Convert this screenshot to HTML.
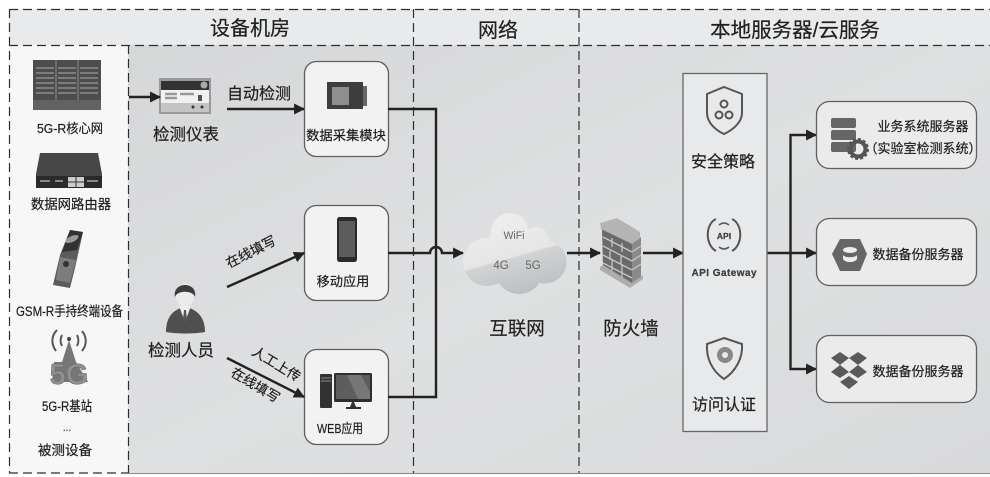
<!DOCTYPE html>
<html>
<head>
<meta charset="utf-8">
<style>
html,body{margin:0;padding:0;background:#fff;width:990px;height:477px;overflow:hidden}
svg{display:block}
text{font-family:"Liberation Sans","Noto Sans CJK SC",sans-serif;fill:#202020;text-anchor:middle;stroke:#202020;stroke-width:.2}
</style>
</head>
<body>
<svg width="990" height="477" viewBox="0 0 990 477" xmlns="http://www.w3.org/2000/svg">
<defs>
<linearGradient id="bg" x1="0" y1="0" x2="1" y2="1">
<stop offset="0" stop-color="#d6d7d8"/><stop offset=".5" stop-color="#dfe0e1"/><stop offset="1" stop-color="#d9dadb"/>
</linearGradient>
<linearGradient id="cl" x1="0" y1="0" x2=".35" y2="1">
<stop offset="0" stop-color="#f0f0f1"/><stop offset=".62" stop-color="#e6e6e7"/><stop offset=".64" stop-color="#d2d3d4"/><stop offset="1" stop-color="#bfc0c1"/>
</linearGradient>
<clipPath id="cloud">
<circle cx="510" cy="232" r="19"/><circle cx="536" cy="240" r="13"/><circle cx="487" cy="262" r="24"/>
<circle cx="545" cy="262" r="21.5"/><circle cx="519" cy="270" r="24"/><circle cx="510" cy="250" r="24"/>
</clipPath>
<marker id="a" viewBox="0 0 10 10" refX="9" refY="5" markerWidth="4.6" markerHeight="4.8" orient="auto"><path d="M0 0L10 5L0 10z" fill="#222"/></marker>
<filter id="b" x="-5%" y="-5%" width="110%" height="110%"><feGaussianBlur stdDeviation=".3"/></filter>
</defs>
<g filter="url(#b)">
<rect x="9" y="9" width="981" height="36" fill="#e9eaeb"/>
<rect x="128" y="45" width="862" height="428" fill="url(#bg)"/>
<rect x="9" y="45" width="119" height="428" fill="#f7f7f7"/>
<g fill="none" stroke="#2e2e2e" stroke-width="1.2" stroke-dasharray="9 5">
<path d="M9 9.5H990M9 45.5H990"/>
<path d="M9.5 9V473.5"/><path d="M128.5 45V473"/><path d="M413.5 9V473"/><path d="M579 9V473"/>
<path d="M9 473H128"/>
</g>
<path d="M128 473.5H990" stroke="#888" stroke-width="1"/>

<text x="250" y="35" font-size="20">设备机房</text>
<text x="498" y="37" font-size="20">网络</text>
<text x="795" y="37" font-size="20.5">本地服务器/云服务</text>

<!-- left devices -->
<g>
<rect x="33" y="60" width="68" height="50" fill="#4e4e4e"/>
<path d="M56 60V110M78 60V110" stroke="#8a8a8a" stroke-width="1"/>
<path d="M36 68H54M36 73H54M36 78H54M36 83H54M36 88H54M36 93H54M58 68H76M58 73H76M58 78H76M58 83H76M58 88H76M58 93H76M80 68H98M80 73H98M80 78H98M80 83H98M80 88H98M80 93H98" stroke="#8b8b8b" stroke-width="1.5"/>
<rect x="33" y="100" width="68" height="10" fill="#626262"/>
</g>
<text x="70" y="133" font-size="13" textLength="66" lengthAdjust="spacingAndGlyphs">5G-R核心网</text>
<g>
<path d="M40 153H98L102 174V188H36V174Z" fill="#464646"/>
<rect x="36" y="176" width="66" height="12" fill="#2b2b2b"/>
<rect x="68" y="177" width="16" height="10" fill="#ccc"/>
<path d="M76 177V187M68 182H84" stroke="#333"/>
<path d="M40 181h10M55 181h8M87 181h11" stroke="#888" stroke-width="2"/>
</g>
<text x="71" y="209" font-size="13.4">数据网路由器</text>
<g>
<path d="M70 230L83 232L75 268L70 288L53 285L60 255Z" fill="#5c5c5c"/>
<path d="M70 230L83 232L77 250L62 252Z" fill="#303030"/>
<ellipse cx="72" cy="239" rx="7" ry="3" fill="#999" transform="rotate(-25 72 239)"/>
<path d="M60 257L76 260L70 283L56 280Z" fill="#7c7c7c"/>
<circle cx="66" cy="264" r="3" fill="#333"/>
</g>
<text x="69.5" y="316" font-size="13.5" textLength="107" lengthAdjust="spacingAndGlyphs">GSM-R手持终端设备</text>
<g>
<path d="M69 340L62 362H54L52 382H88L76 362Z" fill="#777"/>
<path d="M57 330C51 336 51 344 56 351M82 331C87 337 87 345 82 351M62 335C60 339 60 342 62 346M77 335C79 339 79 342 77 346" fill="none" stroke="#555" stroke-width="2"/>
<circle cx="69" cy="339" r="2" fill="#444"/>
<text x="69" y="384" font-size="29" font-weight="bold" style="fill:#8f8f8f;stroke:#666;stroke-width:.5">5G</text>
</g>
<text x="67" y="411" font-size="13.5" textLength="50" lengthAdjust="spacingAndGlyphs">5G-R基站</text>
<text x="67" y="431" font-size="10" style="fill:#666">...</text>
<text x="65" y="455" font-size="13.6">被测设备</text>

<!-- instrument -->
<rect x="159" y="78" width="52" height="36" fill="#9a9a9a"/>
<rect x="161" y="81" width="48" height="31" fill="#f1f1f1"/>
<rect x="161" y="81" width="48" height="9" fill="#333"/>
<circle cx="204" cy="85" r="3.5" fill="#aaa"/>
<path d="M165 94h12M165 98h12M180 94h14" stroke="#999" stroke-width="2.5"/>
<rect x="198" y="95" width="4" height="6" fill="#555"/>
<rect x="161" y="103" width="48" height="9" fill="#c4c4c4"/>
<circle cx="193" cy="107" r="1.5" fill="#333"/><circle cx="202" cy="107" r="1.5" fill="#333"/>
<text x="186" y="140" font-size="16.5">检测仪表</text>
<text x="259" y="99" font-size="16">自动检测</text>

<!-- person -->
<path d="M166 332C166 316 174 309 185 307C196 309 205 316 205 332C195 334 176 334 166 332Z" fill="#4f4f4f"/>
<path d="M179 306L185 322L191 306Z" fill="#eee"/>
<path d="M184 310L186 310L187 320L185 323L183 320Z" fill="#555"/>
<ellipse cx="185" cy="295" rx="9.5" ry="11.5" fill="#ececec"/>
<path d="M175 297C172 281 198 281 195 297C193 290 177 290 175 297Z" fill="#3c3c3c"/>
<text x="181" y="356" font-size="16.5">检测人员</text>

<!-- rotated labels -->
<text font-size="13.5" transform="translate(253 256) rotate(-27)">在线填写</text>
<text font-size="13.5" transform="translate(274 368) rotate(31)">人工上传</text>
<text font-size="13.5" transform="translate(253 389) rotate(31)">在线填写</text>

<!-- boxes -->
<g fill="#f2f2f2" stroke="#5e5e5e" stroke-width="1.3">
<rect x="304.5" y="61.5" width="84" height="95" rx="12"/>
<rect x="304.5" y="205.5" width="84" height="95" rx="12"/>
<rect x="304.5" y="349.5" width="84" height="95" rx="12"/>
</g>
<!-- module icon -->
<rect x="327" y="82" width="36" height="27" fill="#3e3e3e"/>
<rect x="332" y="87" width="17" height="18" fill="#8e8e8e"/>
<rect x="363" y="86" width="4" height="20" fill="#666"/>
<text x="346" y="140" font-size="13.3">数据采集模块</text>
<!-- phone icon -->
<rect x="337" y="217" width="20" height="45" rx="2.5" fill="#2c2c2c"/>
<rect x="339" y="221" width="16" height="36" fill="#5b5b5b"/>
<text x="343" y="286" font-size="13.2">移动应用</text>
<!-- pc icon -->
<rect x="320" y="374" width="12" height="34" rx="1" fill="#333"/>
<path d="M321 378h10M321 381h10" stroke="#888"/>
<rect x="334" y="373" width="38" height="29" rx="1.5" fill="#2d2d2d"/>
<path d="M336 375H370V399H336Z" fill="#5d5d5d"/>
<path d="M347 375H361L370 392V399H358Z" fill="#777"/>
<path d="M352 402L350 407H346V409H361V407H356L354 402Z" fill="#333"/>
<text x="340" y="433" font-size="13" textLength="46" lengthAdjust="spacingAndGlyphs">WEB应用</text>

<!-- connectors -->
<g fill="none" stroke="#222" stroke-width="2.4">
<path d="M129 97H160" marker-end="url(#a)"/>
<path d="M227 109H304" marker-end="url(#a)"/>
<path d="M227 287L304 253" marker-end="url(#a)"/>
<path d="M227 358L304 397" marker-end="url(#a)"/>
<path d="M388 109H436V397H388"/>
<path d="M388 253H430A6 6 0 0 1 442 253H463" marker-end="url(#a)"/>
<path d="M567 253H600" marker-end="url(#a)"/>
<path d="M643 253H683" marker-end="url(#a)"/>
<path d="M767 253H816" marker-end="url(#a)"/>
<path d="M800 135H790.5V369H800"/>
<path d="M800 135H816" marker-end="url(#a)"/>
<path d="M800 369H816" marker-end="url(#a)"/>
</g>

<!-- cloud -->
<rect x="460" y="210" width="110" height="88" fill="url(#cl)" clip-path="url(#cloud)"/>
<text x="514" y="239" font-size="11" textLength="21" lengthAdjust="spacingAndGlyphs" style="fill:#666;stroke:none">WiFi</text>
<text x="501" y="269" font-size="11.5" style="fill:#666;stroke:none">4G</text>
<text x="533" y="269" font-size="11.5" style="fill:#666;stroke:none">5G</text>
<text x="517" y="335" font-size="18.5">互联网</text>

<!-- firewall -->
<path d="M602 228L632 243V286L603 268Z" fill="#6a6a6a"/>
<path d="M632 243L641 237V278L632 286Z" fill="#8a8a8a"/>
<g stroke="#c6c6c6" stroke-width="1.3" fill="none">
<path d="M603 237L632 252M603 246L632 261M603 255L632 270M603 263L632 278"/>
<path d="M612 238V247M622 243V252M610 251V260M621 256V265M612 259V271M622 265V278"/>
<path d="M632 252L641 246M632 261L641 255M632 270L641 264"/>
</g>
<path d="M600 223L617 218L640 232V238L632 244L601 229Z" fill="#b4b4b4"/>
<path d="M600 267L603 265L632 283L643 275V279L630 288L600 270Z" fill="#adadad"/>
<text x="631" y="335" font-size="18.5">防火墙</text>

<!-- gateway panel -->
<rect x="683" y="73.5" width="84" height="358" fill="#e8e9ea" stroke="#666" stroke-width="1.3"/>
<path d="M724 87L742 94V113C742 122 733 130 724 134C715 130 707 122 707 113V94Z" fill="none" stroke="#555" stroke-width="2"/>
<circle cx="724" cy="104" r="3.5" fill="none" stroke="#555" stroke-width="2"/>
<circle cx="719" cy="115" r="3.5" fill="none" stroke="#555" stroke-width="2"/>
<circle cx="729" cy="115" r="3.5" fill="none" stroke="#555" stroke-width="2"/>
<text x="723" y="167" font-size="16">安全策略</text>
<path d="M716 219C705 224 705 245 716 251M732 219C743 224 743 245 732 251" fill="none" stroke="#555" stroke-width="2"/>
<path d="M719 225Q724 221 729 225M719 247Q724 251 729 247" fill="none" stroke="#555" stroke-width="1.5"/>
<text x="724" y="239" font-size="8.5" font-weight="bold" style="fill:#444">API</text>
<text x="724" y="276" font-size="10" font-weight="bold" textLength="65" style="fill:#444">API  Gateway</text>
<path d="M724 338L742 344C743 358 736 371 724 379C712 371 706 358 707 344Z" fill="none" stroke="#555" stroke-width="2"/>
<circle cx="725" cy="355" r="8" fill="#888"/>
<circle cx="725" cy="355" r="3" fill="#e8e9ea"/>
<text x="724" y="410" font-size="16">访问认证</text>

<!-- servers -->
<g fill="#ebebec" stroke="#5e5e5e" stroke-width="1.3">
<rect x="816.5" y="101.5" width="160" height="67" rx="13"/>
<rect x="816.5" y="218.5" width="160" height="67" rx="13"/>
<rect x="816.5" y="335.5" width="160" height="67" rx="13"/>
</g>
<rect x="831" y="118" width="25" height="10" rx="2" fill="#666"/>
<rect x="831" y="130" width="25" height="10" rx="2" fill="#666"/>
<rect x="831" y="142" width="25" height="10" rx="2" fill="#666"/>
<circle cx="858" cy="149" r="7.5" fill="none" stroke="#555" stroke-width="4"/>
<circle cx="858" cy="149" r="10" fill="none" stroke="#555" stroke-width="2" stroke-dasharray="3 2.2"/>
<text x="923" y="131" font-size="13">业务系统服务器</text>
<text x="923" y="153" font-size="13">（实验室检测系统）</text>
<path d="M840 239H860L867 254L860 271H840L832 254Z" fill="#666"/>
<ellipse cx="850" cy="250" rx="7" ry="3" fill="#eee"/>
<path d="M843 255C845 258 855 258 857 255V259C855 263 845 263 843 259Z" fill="#eee"/>
<text x="918" y="259" font-size="13">数据备份服务器</text>
<path d="M840 352L849 358L840 365L831 358ZM858 352L867 358L858 365L849 358ZM840 365L849 372L840 378L831 372ZM858 365L867 372L858 378L849 372ZM849 376L858 382L849 389L840 382Z" fill="#5a5a5a"/>
<text x="918" y="376" font-size="13">数据备份服务器</text>
</g>
</svg>
</body>
</html>
